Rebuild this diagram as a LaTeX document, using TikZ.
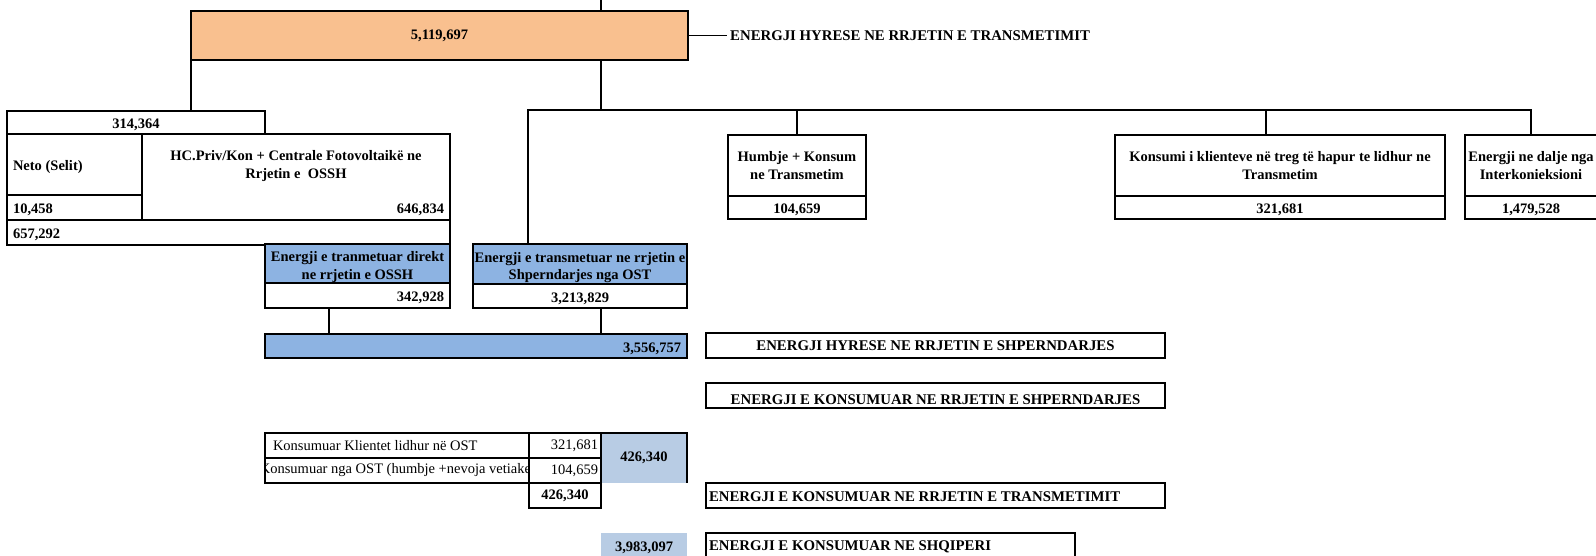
\documentclass[tikz,border=0pt]{standalone}
\usepackage{fontspec}
\setmainfont{Liberation Serif}
\usetikzlibrary{positioning}
\definecolor{inorange}{HTML}{F9C08F}
\definecolor{midblue}{HTML}{8DB3E2}
\definecolor{paleblue}{HTML}{B8CCE4}
\newcommand\boxfont{\fontsize{14.5}{17.5}\selectfont\bfseries}
\newcommand\capfont{\fontsize{14.8}{17.5}\selectfont\bfseries}
\newcommand\plainfont{\fontsize{14.5}{17.5}\selectfont\mdseries}
\tikzset{
  cell/.style 2 args={draw, line width=2.6pt, minimum width=#1, minimum height=#2,
    anchor=north west, inner sep=0pt, outer sep=0pt, align=center},
  tag/.style 2 args={cell={#1}{#2}, line width=2pt, font=\capfont},
  tbl/.style 2 args={cell={#1}{#2}, line width=1.2pt},
  lbl/.style={inner sep=0pt, outer sep=0pt},
  one/.style={text height=12pt, text depth=0pt},
  link/.style={line width=1.7pt},
}
\begin{document}
\begin{tikzpicture}[x=1pt, y=-1pt, font=\boxfont]
\useasboundingbox (0,0) rectangle (1596,556);

% energy entering transmission
\node[cell={497}{49}, fill=inorange] (transin) at (191,11) {5,119,697};
\node[inner sep=3pt, anchor=west, font=\capfont] (transin-l) at (727,35.5) {ENERGJI HYRESE NE RRJETIN E TRANSMETIMIT};
\coordinate (feed) at (601,-2);
\coordinate (busl) at (528,110);
\coordinate (busr) at (1531,110);

% producers on the distribution network
\node[cell={258}{23}, one] (prod) at (7,111) {314,364};
\node[cell={135}{61}] (neto) at (7,134) {};
\node[cell={135}{25}] (netoval) at (7,195) {};
\node[cell={308}{86}] (hc) at (142,134) {};
\node[cell={443}{25}] (prodsum) at (7,220) {};
\node[lbl, one, anchor=west] (neto-t) at ([xshift=6pt]neto.west) {Neto (Selit)};
\node[lbl, one, anchor=west] (netoval-t) at ([xshift=6pt]netoval.west) {10,458};
\node[lbl, align=center] (hc-t) at ([yshift=-32pt]hc.north) {HC.Priv/Kon + Centrale Fotovoltaikë ne\\Rrjetin e~~OSSH};
\node[lbl, one, anchor=east] (hc-v) at ([xshift=-6pt, yshift=12pt]hc.south east) {646,834};
\node[lbl, one, anchor=west] (prodsum-t) at ([xshift=6pt]prodsum.west) {657,292};

% into distribution
\node[cell={185}{39}, fill=midblue] (direct) at (265,244) {};
\node[lbl, align=center] (direct-t) at ([yshift=-3.5pt]direct.center) {Energji e tranmetuar direkt\\ne rrjetin e OSSH};
\node[cell={185}{25}] (directval) at (265,283) {};
\node[lbl, one, anchor=east] (directval-t) at ([xshift=-6pt]directval.east) {342,928};
\node[cell={214}{40}, fill=midblue] (viaost) at (473,244) {};
\node[lbl, align=center] (viaost-t) at ([yshift=-3.5pt]viaost.center) {Energji e transmetuar ne rrjetin e\\Shperndarjes nga OST};
\node[cell={214}{24}, one] (viaostval) at (473,284) {3,213,829};
\node[cell={422}{24}, fill=midblue] (distin) at (265,334) {};
\node[lbl, one, anchor=east] (distin-t) at ([xshift=-6pt]distin.east) {3,556,757};

% out of transmission
\node[cell={138}{61}] (humbje) at (728,135) {Humbje + Konsum\\ne Transmetim};
\node[cell={138}{23}, one] (humbjeval) at (728,196) {104,659};
\node[cell={330}{61}] (klient) at (1115,135) {Konsumi i klienteve në treg të hapur te lidhur ne\\Transmetim};
\node[cell={330}{23}, one] (klientval) at (1115,196) {321,681};
\node[cell={132}{61}] (dalje) at (1465,135) {Energji ne dalje nga\\Interkonieksioni};
\node[cell={132}{23}, one] (daljeval) at (1465,196) {1,479,528};

% captions
\node[tag={459}{25}] (hyrshp) at (706,333) {ENERGJI HYRESE NE RRJETIN E SHPERNDARJES};
\node[tag={459}{25}] (konshp) at (706,383) {};
\node[lbl, one, font=\capfont] (konshp-t) at ([yshift=-2.5pt]konshp.center) {ENERGJI E KONSUMUAR NE RRJETIN E SHPERNDARJES};
\node[tag={459}{25}] (konstr) at (706,483) {};
\node[lbl, one, anchor=west, font=\capfont] (konstr-t) at ([xshift=3pt]konstr.west) {ENERGJI E KONSUMUAR NE RRJETIN E TRANSMETIMIT};
\node[tag={369}{25}] (konshq) at (706,533) {};
\node[lbl, one, anchor=west, font=\capfont] (konshq-t) at ([xshift=3pt, yshift=1pt]konshq.west) {ENERGJI E KONSUMUAR NE SHQIPERI};

% consumption table
\node[cell={86}{50}, draw=none, fill=paleblue] (sumost) at (601,433) {426,340};
\node[cell={86}{25}, draw=none, fill=paleblue, one] (shq) at (601,533) {3,983,097};
\node[tbl={264}{25}] (row1) at (265,433) {};
\node[tbl={72}{25}] (row1val) at (529,433) {};
\node[tbl={264}{25}] (row2) at (265,458) {};
\node[tbl={72}{25}] (row2val) at (529,458) {};
\node[cell={72}{25}] (sumtbl) at (529,483) {426,340};
\draw[line width=2.4pt] (row1.north west) rectangle (row2val.south east);
\draw[line width=2pt] (sumost.north west) -- (sumost.north east) -- (sumost.south east);
\node[lbl, anchor=west, font=\plainfont] (row1-t) at ([xshift=8pt]row1.west) {Konsumuar Klientet lidhur në OST};
\node[lbl, anchor=east, font=\plainfont] (row1val-t) at ([xshift=-3pt]row1val.east) {321,681};
\begin{scope}
\clip (row2.north west) rectangle (row2.south east);
\node[lbl, anchor=east, font=\plainfont] (row2-t) at ([xshift=2pt]row2.east) {Konsumuar nga OST (humbje +nevoja vetiake};
\end{scope}
\node[lbl, anchor=east, font=\plainfont] (row2val-t) at ([xshift=-3pt]row2val.east) {104,659};

% connectors
\draw[link] (feed) -- (feed |- transin.north);
\draw[link] (transin.east) -- (transin-l.west);
\draw[link] (transin.south west) -- (transin.south west |- prod.north);
\draw[link] (feed |- transin.south) -- (feed |- busl);
\draw[link] (viaost.north -| busl) -- (busl) -- (busr) -- (dalje.north);
\draw[link] (humbje.north |- busl) -- (humbje.north);
\coordinate (kdrop) at ([xshift=151pt]klient.north west);
\draw[link] (kdrop |- busl) -- (kdrop);
\coordinate (ddrop) at ([xshift=64pt]directval.south west);
\draw[link] (ddrop) -- (ddrop |- distin.north);
\coordinate (vdrop) at ([xshift=128pt]viaostval.south west);
\draw[link] (vdrop) -- (vdrop |- distin.north);
\end{tikzpicture}
\end{document}
